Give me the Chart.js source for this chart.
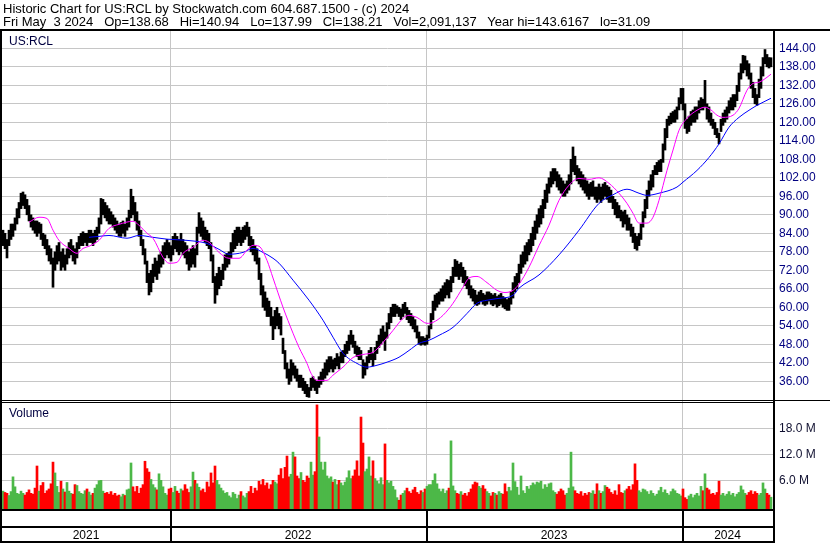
<!DOCTYPE html>
<html>
<head>
<meta charset="utf-8">
<title>Historic Chart for US:RCL</title>
<script src="https://cdn.jsdelivr.net/npm/chart.js"></script>
<style>
  body { margin: 0; background: #fff; }
  #wrap { position: relative; width: 830px; height: 543px; overflow: hidden; font-family: Arial, "Liberation Sans", sans-serif; }
  #chart { position: absolute; left: 0; top: 0; }
  .txt { position: absolute; white-space: pre; font-size: 12px; line-height: 13px; color: #000; }
  .hd { position: absolute; white-space: pre; font-size: 13px; line-height: 13px; color: #000; }
</style>
</head>
<body>
<div id="wrap">
  <canvas id="chart" width="830" height="543"></canvas>
  <div class="hd" style="left:3px;top:2px">Historic Chart for US:RCL by Stockwatch.com 604.687.1500 - (c) 2024</div>
  <div class="hd" style="left:3px;top:15px">Fri May  3 2024   Op=138.68   Hi=140.94   Lo=137.99   Cl=138.21   Vol=2,091,137   Year hi=143.6167   lo=31.09</div>
  <div class="txt" style="left:9px;top:35px;color:#000040">US:RCL</div>
  <div class="txt" style="left:9px;top:407px;color:#000040">Volume</div>
</div>
<script>
// one entry per two trading days
const lo = [
  80,79,76,80,82,83,85,87,89,92,
  93,92,90,88,86,85,84,83,84,82,
  80,79,77,75,74,66.5,72,74,75,72,
  73,72,74,76,77,75,74,76,79,80,
  80,81,80,81,81,80,81,82,84,87,
  90,89,88,87,87,86,85,84,83,83,
  84,83,85,86,89,90,88,85,83,80,
  77,74,68,64,65,68,70,69,71,73,
  74,76,77,76,75,77,79,78,77,78,
  77,76,74,72,73,74,73,77,84,83,
  82,81,80,79,75,68,61.3,64,66,67,
  69,72,73,74,76,78,79,80,81,80,
  81,82,83,80,78,77,75,74,69,64,
  60,59,57,57,54,49.5,53,54,53,51,
  45,40,37,35,36,38,37,36,34,34,
  33,32,31,30.8,33,34,33,32,34,35,
  36,37,38,39,40,39,40,41,40,42,
  42,44,45,46,48,47,45,44,43,43,
  37,38,40,42,43,41,43,45,47,48,
  49,46,50,53,55,57,57,58,57,56,
  57,58,56,55,54,53,52,50,48,47.7,
  48,47.7,48,50,53,56,59,60,61,62,
  62,63,64,63,65,68,70,70,69,70,
  68,67,66,64,63,62,61,60.6,61,62,
  61,60.6,61,62,61,60.5,61,60,60.5,61,
  60,59.5,59,59,61,63,65,66,68,71,
  73,74,75,77,78,80,82,84,86,87,
  89,92,94,97,99,100,101,99,98,97,
  96,96,97,98,100,104,103,101,100,99,
  98,97,96,95,96,96,95,94,95,94,
  95,96,95,94,94,92,90,89,89,88,
  86,87,85,85,83,81,79,78.5,80,82,
  86,89,92,96,98,99,103,103,104,104,
  107,111,115,119,119.5,120,120,121,124,126,
  124,118,116.4,117,119,120,120,121,123,124,
  124,125,121,120,119,118,116,115,113,117,
  119,120,121,123,124,124,125,127,130,134,
  136,137,135,134,131,128,126,125.5,128,131,
  135,139,138,137.6,137.99
];
const hi = [
  85,84,82,85,87,87,89,92,94,97,
  97.4,96.5,95,93,90,89,88,88,87.5,87,
  84,83.5,82,80,79,76,78,80,81,78,
  79,77,79,81,82,80,79,81,83,84,
  84.5,84,84,85,85,84,85,86,89,95.3,
  95,94,93,92,91,90,89,88,87,87.5,
  88,87,89,91.5,98.3,96,94,91,88,85,
  82,79,75,71,72,74,76,75,77,78,
  80,81,82,81,80,83,84,83,82,84,
  82,81,80,78,79,80,79,86,90.7,89,
  88,86,85,84,81,77,70,71,73,72,
  74,77,77.5,78,81,84,85,86,86,85,
  86,86.5,87.6,86,83,82,80,79,76,71,
  67,65,63,62,60,57,59,60,58,57,
  50,46,42,40,43,42,41,40,38,38,
  37,36,35,34,37,37.5,36.5,36,37.5,39,
  40,42,43,44,44,43,43.5,45,44,45.5,
  46,48,49,51,52.5,51,49,47.5,47,46,
  43,42,44,46,47,45,47,49,51,53,
  54,52,55,58,60,61,61,60.5,60,59.5,
  61,61.6,60,59,58,57,56,54,52,50.5,
  50.5,50,51,54,58,62,64,64.5,65,66,
  67,68,69,68.7,70,73,75.5,75,74,74.5,
  73,72,70,69,67,66,65.5,64,65,65.5,
  64.5,64,65,65,64.5,64,64.5,63.5,64,64.5,
  63.5,63,62.5,63,65,68,70,71,74,77,
  78,80,81,82,84,86,88,90,92,93,
  95,98,100,102,104,105,105,104,103,102,
  101,100,101,103,108,112,109,106,105,104,
  103,102,101,100,100.5,101,99,99,100,99,
  100,100.5,99.5,99,98,96,95,94,93,91.5,
  91,91.5,90,89,87,86,84,83,84,87,
  91,95,98,101,103,104.4,106,107,107.6,108,
  113,118,121,122,123,123.5,124,125,128,131,
  131,126,121,122,123.5,124,125,125,127,128,
  127.5,133.6,126,125,123,121,120,118,116.5,121,
  123,124,125,127,128,129,129,132,136,139,
  141.7,141.5,140,139,136,133,131,129,134,138,
  141,143.6,142,141,140.94
];
// volume, millions of shares
const vol = [
  3.5,3.2,3.0,2.5,3.4,6.8,4.5,3.0,2.8,3.5,
  3.0,2.6,3.2,3.8,3.0,2.8,4.2,9.3,3.5,4.8,
  5.5,3.0,3.6,4.0,5.2,10.2,7.7,4.6,3.2,5.8,
  4.0,3.3,5.5,3.5,3.0,2.8,5.0,4.8,3.4,3.0,
  2.8,3.6,4.0,3.3,2.6,3.0,4.2,5.0,5.9,6.0,
  3.5,3.0,3.2,2.8,3.4,2.6,3.0,2.4,2.6,2.2,
  2.8,2.5,3.8,4.0,10.0,4.5,3.4,4.6,3.0,4.2,
  5.0,10.4,8.7,7.9,6.2,5.0,4.3,3.8,7.5,6.0,
  4.5,3.0,2.6,4.0,4.2,3.2,4.6,3.5,3.0,4.0,
  3.6,5.0,4.0,3.2,4.5,7.9,6.0,5.2,4.4,3.6,
  4.0,3.2,5.6,4.5,7.7,5.4,9.3,6.0,5.0,4.2,
  3.6,3.0,3.2,2.4,2.0,3.2,2.8,1.8,2.6,3.4,
  2.4,2.0,3.0,3.4,4.6,3.0,4.2,3.6,5.8,5.0,
  6.2,4.8,5.4,4.0,5.0,6.0,5.6,5.2,7.2,8.7,
  6.4,9.0,11.6,6.8,7.4,12.5,11.4,7.0,6.4,7.8,
  6.0,5.6,7.0,6.5,10.2,7.2,8.0,23.4,16.0,10.2,
  8.4,10.2,7.0,6.4,6.8,5.6,6.2,5.0,6.0,5.4,
  4.8,5.6,6.6,8.2,6.4,7.0,8.4,10.5,7.0,20.6,
  14.6,8.0,8.6,11.4,7.0,10.5,6.4,5.8,5.2,6.6,
  5.0,14.4,6.0,5.4,5.8,4.6,3.8,2.0,1.4,2.6,
  3.0,3.6,4.2,3.4,3.0,3.8,4.4,3.2,2.8,3.6,
  3.2,4.0,4.6,5.0,5.0,6.0,7.5,5.2,4.0,3.4,
  4.0,3.0,3.6,4.2,15.1,4.7,3.6,3.0,2.8,3.4,
  2.6,3.0,2.4,3.2,4.0,5.0,5.6,5.4,4.6,4.2,
  4.8,4.0,3.4,3.0,2.4,3.2,3.0,2.6,3.4,3.0,
  2.8,5.2,3.4,4.4,3.6,10.0,5.7,4.4,2.6,7.0,
  3.6,3.0,4.6,4.0,4.8,5.4,5.0,5.6,5.4,5.8,
  4.0,5.0,4.4,5.2,5.4,3.6,3.2,2.8,3.4,4.0,
  3.6,2.6,3.0,4.2,12.5,4.5,3.6,3.0,2.8,3.4,
  2.4,3.0,2.6,3.2,3.0,3.6,2.8,5.2,3.6,3.0,
  3.4,4.8,4.4,4.0,3.2,2.8,3.6,2.6,5.0,3.2,
  3.0,3.6,4.0,4.6,3.8,5.0,9.8,6.0,3.6,3.2,
  4.0,3.8,3.4,2.8,3.6,3.0,2.4,2.8,3.6,4.4,
  3.2,3.8,3.0,2.6,3.4,4.0,3.6,3.0,2.8,2.4,
  4.0,2.0,1.6,2.4,2.8,2.0,2.6,3.0,2.4,4.6,
  3.6,7.5,4.2,3.8,2.8,3.0,2.6,3.2,5.8,2.6,
  3.0,2.4,2.8,3.4,2.6,3.0,2.2,2.8,3.2,4.7,
  3.8,3.0,2.6,3.2,3.6,2.8,3.4,3.0,2.6,3.0,
  5.4,4.0,3.0,2.6,2.1
];

// moving averages, sampled along the bar index
const fastAt = [13,18,22,25,28,33,37,40,43,48,53,58,65,68,72,75,80,83,87,90,95,100,103,108,113,118,122,125,128,132,
  135,140,145,148,152,154,157,162,165,170,175,180,185,190,195,200,203,207,212,215,220,225,230,233,237,242,247,251,255,258,
  263,268,273,278,283,288,293,298,303,308,312,315,318,322,325,328,332,335,338,342,347,351,354,357,360,365,368,372,375,378,382,384];
const fastMa = [87.6,89.2,88.8,85,81.7,79.1,77.5,79.1,79.8,81.7,85.6,86.9,87.9,86.6,84,82.4,76.2,74.3,74.6,77.5,79.5,81.7,81.1,77.8,75.9,75.9,78.5,80.1,79.8,75.2,
  69.5,60,51.6,47,41.8,38.6,36.3,36.3,38,40.6,43.7,44.7,45.4,48.6,52.5,56.4,57.4,56.7,54.8,55.1,57.4,61.3,66.5,69.5,70,68,65.5,64.8,65.5,67.5,
  73,80,86.6,94.7,99.6,101.8,101.5,102,100.2,97,93.7,90.5,87.3,87.3,89.2,94.7,104.4,111,117.4,121.3,123.9,124.9,124,122.3,121.6,122.3,124.5,130.4,132.6,133,134.6,135.6];
const slowAt = [43,48,53,62,68,75,82,92,102,108,113,120,125,130,135,138,145,153,160,165,170,177,182,187,192,198,203,208,213,218,
  225,232,237,242,248,255,258,268,278,288,298,305,312,318,322,328,337,340,347,353,358,363,368,373,377,380,384];
const slowMa = [82.7,83,83.3,82.4,83.3,82.7,82.1,81.7,80.7,78.8,77.2,77.8,79.1,77.8,75.9,74.3,68.8,62.3,55.8,50.3,45.1,41.8,40.6,41.2,42.2,43.8,46,48.3,49.3,50.9,
  53.5,58,61.3,62.3,62.9,63.9,66.2,70.5,77,85,93.7,96.5,98.3,97,96.3,97,99,100.6,104.4,108.6,113,118.4,121.6,123.9,125.5,126.5,127.8];

const priceTicks = [36,42,48,54,60,66,72,78,84,90,96,102,108,114,120,126,132,138,144];
const volTicks = [6,12,18];
const years = ['2021','2022','2023','2024'];
const yearFirstBar = [84,212,340];

const priceMin = 29.61, priceMax = 149.61;
const volMin = -0.62, volMax = 24.3;
const xMin = -0.5, xMax = hi.length;

const boundaries = yearFirstBar.map(b => b - 0.5);
const edges = [xMin, ...boundaries, xMax];
const yearMid = years.map((y, i) => (edges[i] + edges[i + 1]) / 2);

const mid = hi.map((h, i) => (h + lo[i]) / 2);
const volColors = vol.map((v, i) => (i > 0 && mid[i] < mid[i - 1]) ? '#ff0000' : '#4cb848');

Chart.defaults.font.family = 'Arial, "Liberation Sans", sans-serif';
Chart.defaults.font.size = 12;

// black frame lines of the stockwatch layout
const frame = {
  id: 'frame',
  afterDraw(chart) {
    const {ctx, chartArea: a, scales} = chart;
    const W = chart.width, H = chart.height;
    const split = scales.y.bottom;
    ctx.save();
    ctx.fillStyle = '#000';
    ctx.fillRect(0, a.top - 2, W, 2);
    ctx.fillRect(0, a.top - 2, 2, H - a.top + 2);
    ctx.fillRect(a.right, a.top - 2, 2, H - a.top + 2);
    ctx.fillRect(0, split - 1, W, 1);
    ctx.fillRect(0, split + 1, a.right, 1);
    ctx.fillRect(0, a.bottom, a.right, 2);
    ctx.fillRect(0, a.bottom + 17, a.right, 2);
    ctx.fillRect(0, H - 2, a.right, 2);
    boundaries.forEach(b => {
      const px = Math.round(scales.x.getPixelForValue(b));
      ctx.fillRect(px, a.bottom, 2, H - a.bottom);
    });
    ctx.restore();
  }
};

new Chart(document.getElementById('chart'), {
  type: 'bar',
  data: {
    datasets: [
      {
        type: 'line',
        data: fastAt.map((x, i) => ({x: x, y: fastMa[i]})),
        borderColor: '#ff00ff', borderWidth: 1, pointRadius: 0,
        cubicInterpolationMode: 'monotone', yAxisID: 'y', order: 0
      },
      {
        type: 'line',
        data: slowAt.map((x, i) => ({x: x, y: slowMa[i]})),
        borderColor: '#0000ff', borderWidth: 1, pointRadius: 0,
        cubicInterpolationMode: 'monotone', yAxisID: 'y', order: 0
      },
      {
        data: hi.map((h, i) => ({x: i, y: [lo[i], h]})),
        backgroundColor: '#000', barThickness: 2, grouped: false,
        yAxisID: 'y', order: 2
      },
      {
        data: vol.map((v, i) => ({x: i, y: v})),
        backgroundColor: volColors, barThickness: 2, grouped: false,
        base: volMin, yAxisID: 'yv', order: 2
      }
    ]
  },
  options: {
    responsive: false,
    animation: false,
    devicePixelRatio: 1,
    layout: {padding: {top: 31, left: 2, right: 0, bottom: 0}},
    plugins: {legend: {display: false}, tooltip: {enabled: false}},
    scales: {
      x: {
        type: 'linear', position: 'bottom', min: xMin, max: xMax, offset: false,
        grid: {display: false, drawTicks: false, offset: false}, border: {display: false},
        afterBuildTicks: s => { s.ticks = yearMid.map(v => ({value: v})); },
        afterFit: s => { s.height = 34; },
        ticks: {autoSkip: false, maxRotation: 0, padding: 19, color: '#000', callback: (v, i) => years[i]}
      },
      xg: {
        type: 'linear', position: 'top', min: xMin, max: xMax, offset: false,
        grid: {color: '#c6c6c6', drawTicks: false, offset: false}, border: {display: false},
        ticks: {display: false},
        afterBuildTicks: s => { s.ticks = boundaries.map(v => ({value: v})); }
      },
      y: {
        type: 'linear', position: 'right', stack: 'panels', stackWeight: 370, weight: 0,
        min: priceMin, max: priceMax, bounds: 'data',
        grid: {color: '#c6c6c6', drawTicks: false}, border: {display: false},
        afterBuildTicks: s => { s.ticks = priceTicks.map(v => ({value: v})); },
        afterFit: s => { s.width = 57; },
        ticks: {autoSkip: false, padding: 6, color: '#000080', callback: v => v.toFixed(2)}
      },
      yv: {
        type: 'linear', position: 'right', stack: 'panels', stackWeight: 108, weight: 1,
        min: volMin, max: volMax, bounds: 'data',
        grid: {color: '#c6c6c6', drawTicks: false}, border: {display: false},
        afterBuildTicks: s => { s.ticks = volTicks.map(v => ({value: v})); },
        afterFit: s => { s.width = 57; },
        ticks: {autoSkip: false, padding: 6, color: '#101030', callback: v => v.toFixed(1) + ' M'}
      }
    }
  },
  plugins: [frame]
});
</script>
</body>
</html>
